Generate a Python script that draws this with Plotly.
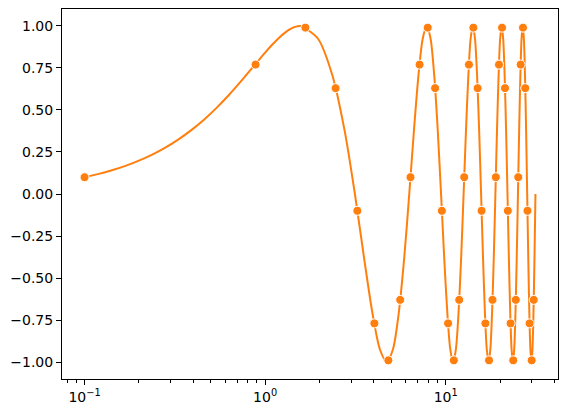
import plotly.graph_objects as go

# curve (x on log scale, y)
line_x = [0.10, 0.12, 0.14, 0.17, 0.20, 0.24, 0.28, 0.33, 0.39, 0.46,
          0.54, 0.63, 0.74, 0.87, 1.00, 1.10, 1.20, 1.30, 1.40, 1.50,
          1.571, 1.963, 2.356, 2.749, 3.142,
          3.534, 3.927, 4.320, 4.712, 5.105, 5.498, 5.890, 6.283,
          6.676, 7.069, 7.461, 7.854, 8.247, 8.639, 9.032, 9.425,
          9.817, 10.210, 10.603, 10.996, 11.388, 11.781, 12.174, 12.566,
          12.959, 13.352, 13.744, 14.137, 14.530, 14.923, 15.315, 15.708,
          16.101, 16.493, 16.886, 17.279, 17.671, 18.064, 18.457, 18.850,
          19.242, 19.635, 20.028, 20.420, 20.813, 21.206, 21.598, 21.991,
          22.384, 22.777, 23.169, 23.562, 23.955, 24.347, 24.740, 25.133,
          25.525, 25.918, 26.311, 26.704, 27.096, 27.489, 27.882, 28.274,
          28.667, 29.060, 29.452, 29.845, 30.238, 30.631, 31.023, 31.416]
line_y = [0.0998, 0.1197, 0.1395, 0.1692, 0.1987, 0.2377, 0.2764, 0.3240, 0.3802, 0.4439,
          0.5141, 0.5891, 0.6743, 0.7643, 0.8415, 0.8912, 0.9320, 0.9636, 0.9854, 0.9975,
          1.000, 0.924, 0.707, 0.383, 0.000,
          -0.383, -0.707, -0.924, -1.000, -0.924, -0.707, -0.383, 0.000,
          0.383, 0.707, 0.924, 1.000, 0.924, 0.707, 0.383, 0.000,
          -0.383, -0.707, -0.924, -1.000, -0.924, -0.707, -0.383, 0.000,
          0.383, 0.707, 0.924, 1.000, 0.924, 0.707, 0.383, 0.000,
          -0.383, -0.707, -0.924, -1.000, -0.924, -0.707, -0.383, 0.000,
          0.383, 0.707, 0.924, 1.000, 0.924, 0.707, 0.383, 0.000,
          -0.383, -0.707, -0.924, -1.000, -0.924, -0.707, -0.383, 0.000,
          0.383, 0.707, 0.924, 1.000, 0.924, 0.707, 0.383, 0.000,
          -0.383, -0.707, -0.924, -1.000, -0.924, -0.707, -0.383, 0.000]

# marked points
mark_x = [0.100, 0.885, 1.671, 2.456, 3.242, 4.027, 4.812, 5.598,
          6.383, 7.169, 7.954, 8.739, 9.525, 10.310, 11.096, 11.881,
          12.666, 13.452, 14.237, 15.023, 15.808, 16.593, 17.379, 18.164,
          18.950, 19.735, 20.520, 21.306, 22.091, 22.877, 23.662, 24.447,
          25.233, 26.018, 26.804, 27.589, 28.374, 29.160, 29.945, 30.731]
mark_y = [0.10, 0.77, 0.99, 0.63, -0.10, -0.77, -0.99, -0.63,
          0.10, 0.77, 0.99, 0.63, -0.10, -0.77, -0.99, -0.63,
          0.10, 0.77, 0.99, 0.63, -0.10, -0.77, -0.99, -0.63,
          0.10, 0.77, 0.99, 0.63, -0.10, -0.77, -0.99, -0.63,
          0.10, 0.77, 0.99, 0.63, -0.10, -0.77, -0.99, -0.63]

x_tickvals = [0.1, 1, 10]
x_ticktext = ['10<sup>\u22121</sup>', '10<sup>0</sup>', '10<sup>1</sup>']
y_tickvals = [-1.0, -0.75, -0.5, -0.25, 0.0, 0.25, 0.5, 0.75, 1.0]
y_ticktext = ['\u22121.00', '\u22120.75', '\u22120.50', '\u22120.25', '0.00',
              '0.25', '0.50', '0.75', '1.00']

orange = '#ff7f0e'

fig = go.Figure()

fig.add_trace(go.Scatter(
    x=line_x, y=line_y,
    mode='lines',
    line=dict(color=orange, width=2, shape='spline', smoothing=0.8),
    showlegend=False, hoverinfo='none'
))

fig.add_trace(go.Scatter(
    x=mark_x, y=mark_y,
    mode='markers',
    marker=dict(color=orange, size=9, line=dict(color='white', width=1)),
    showlegend=False
))

axis_style = dict(
    showline=True, linecolor='black', linewidth=1, mirror=True,
    ticks='outside', ticklen=5, tickcolor='black', tickwidth=1,
    showgrid=False, zeroline=False,
    tickfont=dict(family='DejaVu Sans', size=14, color='black'),
)

fig.update_xaxes(
    type='log', range=[-1.125, 1.622],
    tickvals=x_tickvals, ticktext=x_ticktext,
    minor=dict(ticks='outside', ticklen=3, tickcolor='black', dtick='D1', showgrid=False),
    **axis_style
)
fig.update_yaxes(
    range=[-1.101, 1.101],
    tickvals=y_tickvals, ticktext=y_ticktext,
    **axis_style
)

fig.update_layout(
    width=568, height=417,
    margin=dict(l=62, r=10, t=9, b=38),
    plot_bgcolor='white', paper_bgcolor='white',
)

# page body has a default margin; drop it so the figure sits at the window corner
fig.write_html("out.html", config={'displayModeBar': False},
               post_script="document.body.style.margin='0';")
